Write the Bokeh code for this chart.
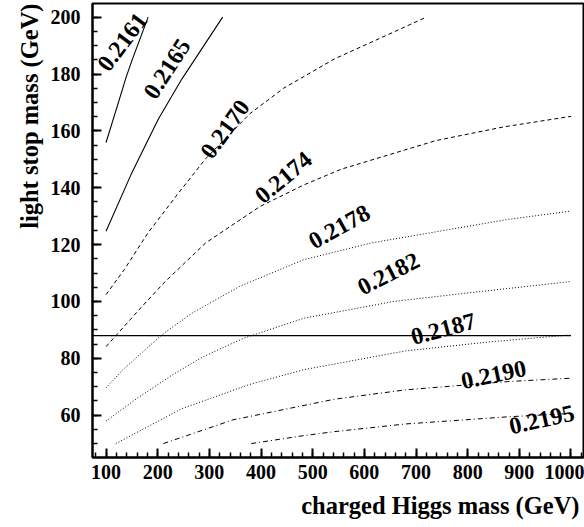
import math
from bokeh.plotting import figure
from bokeh.models import FixedTicker, Title, Range1d
from bokeh.core.properties import value
from bokeh.embed import file_html
from bokeh.resources import INLINE

# ---- data: contour lines of constant sin^2(theta_eff) ----
# x = charged Higgs mass (GeV), y = light stop mass (GeV)
c2161_x = [100, 119.1, 138.8, 150.0, 181.5]
c2161_y = [155.9, 167.1, 178.8, 184.7, 200.0]

c2165_x = [100, 148.6, 201.1, 247.0, 325.7]
c2165_y = [124.7, 144.7, 164.1, 178.3, 200.0]

c2170_x = [100, 135.4, 181.5, 240.5, 292.8, 378.2, 443.8, 542.0, 620.9, 720.0]
c2170_y = [102.4, 111.2, 124.2, 138.2, 150.2, 166.0, 175.0, 185.3, 191.8, 200.0]

c2174_x = [100, 168.0, 214.0, 293.0, 398.0, 483.0, 555.0, 739.0, 870.0, 1000]
c2174_y = [84.1, 97.9, 106.9, 120.6, 133.4, 141.0, 146.5, 156.6, 161.4, 165.1]

c2178_x = [100, 132.3, 207.6, 266.7, 358.6, 483.1, 614.4, 745.4, 876.6, 1000]
c2178_y = [69.6, 75.9, 88.2, 95.9, 105.3, 114.7, 120.6, 124.7, 128.8, 131.8]

c2182_x = [100, 160.0, 227.0, 286.5, 365.5, 483.0, 657.0, 811.0, 1000]
c2182_y = [57.9, 65.9, 74.0, 80.4, 87.0, 94.1, 100.0, 103.2, 107.0]

c2187_x = [119.0, 247.0, 378.0, 483.0, 680.0, 844.0, 998.0]
c2187_y = [50.0, 62.3, 70.8, 76.0, 82.6, 85.8, 88.2]

c2190_x = [211.0, 345.0, 542.0, 680.0, 877.0, 1000]
c2190_y = [50.0, 58.3, 65.6, 68.9, 71.8, 73.0]

c2195_x = [381.0, 483.0, 542.0, 680.0, 877.0, 1000]
c2195_y = [50.0, 52.8, 54.2, 56.9, 59.4, 60.6]

# horizontal bound on the light stop mass
bound_x = [74, 1000]
bound_y = [88.0, 88.0]

# contour labels
lab_text = ["0.2161", "0.2165", "0.2170", "0.2174", "0.2178",
            "0.2182", "0.2187", "0.2190", "0.2195"]
lab_x = [132.3, 218.8, 331.0, 443.8, 552.0, 647.0, 753.0, 850.5, 943.6]
lab_y = [191.2, 181.8, 160.5, 143.5, 126.1, 109.6, 90.2, 74.1, 58.3]
lab_angle_deg = [53, 57, 54, 40, 29, 27, 15, 12, 12.5]

x_ticks = [100, 200, 300, 400, 500, 600, 700, 800, 900, 1000]
y_ticks = [60, 80, 100, 120, 140, 160, 180, 200]

FONT = "Liberation Serif"

p = figure(width=584, height=526,
           x_range=Range1d(73.8, 1024.2), y_range=Range1d(45.1, 204.8),
           output_backend="svg", toolbar_location=None,
           min_border_left=92, min_border_right=1,
           min_border_top=3, min_border_bottom=20)

p.xgrid.visible = False
p.ygrid.visible = False
p.background_fill_color = "white"
p.border_fill_color = "white"
p.outline_line_color = "black"
p.outline_line_width = 2

solid = dict(line_color="black", line_width=1.1)
p.line(c2161_x, c2161_y, **solid)
p.line(c2165_x, c2165_y, **solid)
p.line(bound_x, bound_y, line_color="black", line_width=1.3)
dashed = dict(line_color="black", line_width=1, line_dash="4 3")
p.line(c2170_x, c2170_y, **dashed)
p.line(c2174_x, c2174_y, **dashed)
dotted = dict(line_color="black", line_width=1, line_dash="1 2")
p.line(c2178_x, c2178_y, **dotted)
p.line(c2182_x, c2182_y, **dotted)
p.line(c2187_x, c2187_y, **dotted)
dashdot = dict(line_color="black", line_width=1, line_dash="5 3 1 3")
p.line(c2190_x, c2190_y, **dashdot)
p.line(c2195_x, c2195_y, **dashdot)

p.text(x=lab_x, y=lab_y, text=lab_text,
       angle=[math.radians(a) for a in lab_angle_deg],
       text_font=value(FONT), text_font_style="bold", text_font_size="24px",
       text_align="center", text_baseline="middle", text_color="black")

for ax in (p.xaxis[0], p.yaxis[0]):
    ax.axis_line_color = "black"
    ax.axis_line_width = 2
    ax.major_tick_line_color = "black"
    ax.major_tick_line_width = 2
    ax.minor_tick_line_color = "black"
    ax.minor_tick_line_width = 1.5
    ax.major_tick_in = 9
    ax.major_tick_out = 0
    ax.minor_tick_in = 5
    ax.minor_tick_out = 0
    ax.major_label_text_font = FONT
    ax.major_label_text_font_style = "bold"
    ax.major_label_text_font_size = "20px"
    ax.major_label_text_color = "black"

p.xaxis.ticker = FixedTicker(ticks=x_ticks, minor_ticks=list(range(80, 1021, 20)))
p.yaxis.ticker = FixedTicker(ticks=y_ticks, minor_ticks=list(range(45, 201, 5)))
p.xaxis.major_label_standoff = 7
p.yaxis.major_label_standoff = 12

p.add_layout(Title(text="charged Higgs mass (GeV)", align="right",
                   text_font=FONT, text_font_style="bold", standoff=16, offset=4,
                   text_font_size="24.5px", text_color="black"), "below")
p.add_layout(Title(text="light stop mass (GeV)", align="right",
                   text_font=FONT, text_font_style="bold",
                   text_font_size="24.5px", text_color="black"), "left")

open("out.html", "w").write(file_html(p, INLINE))
